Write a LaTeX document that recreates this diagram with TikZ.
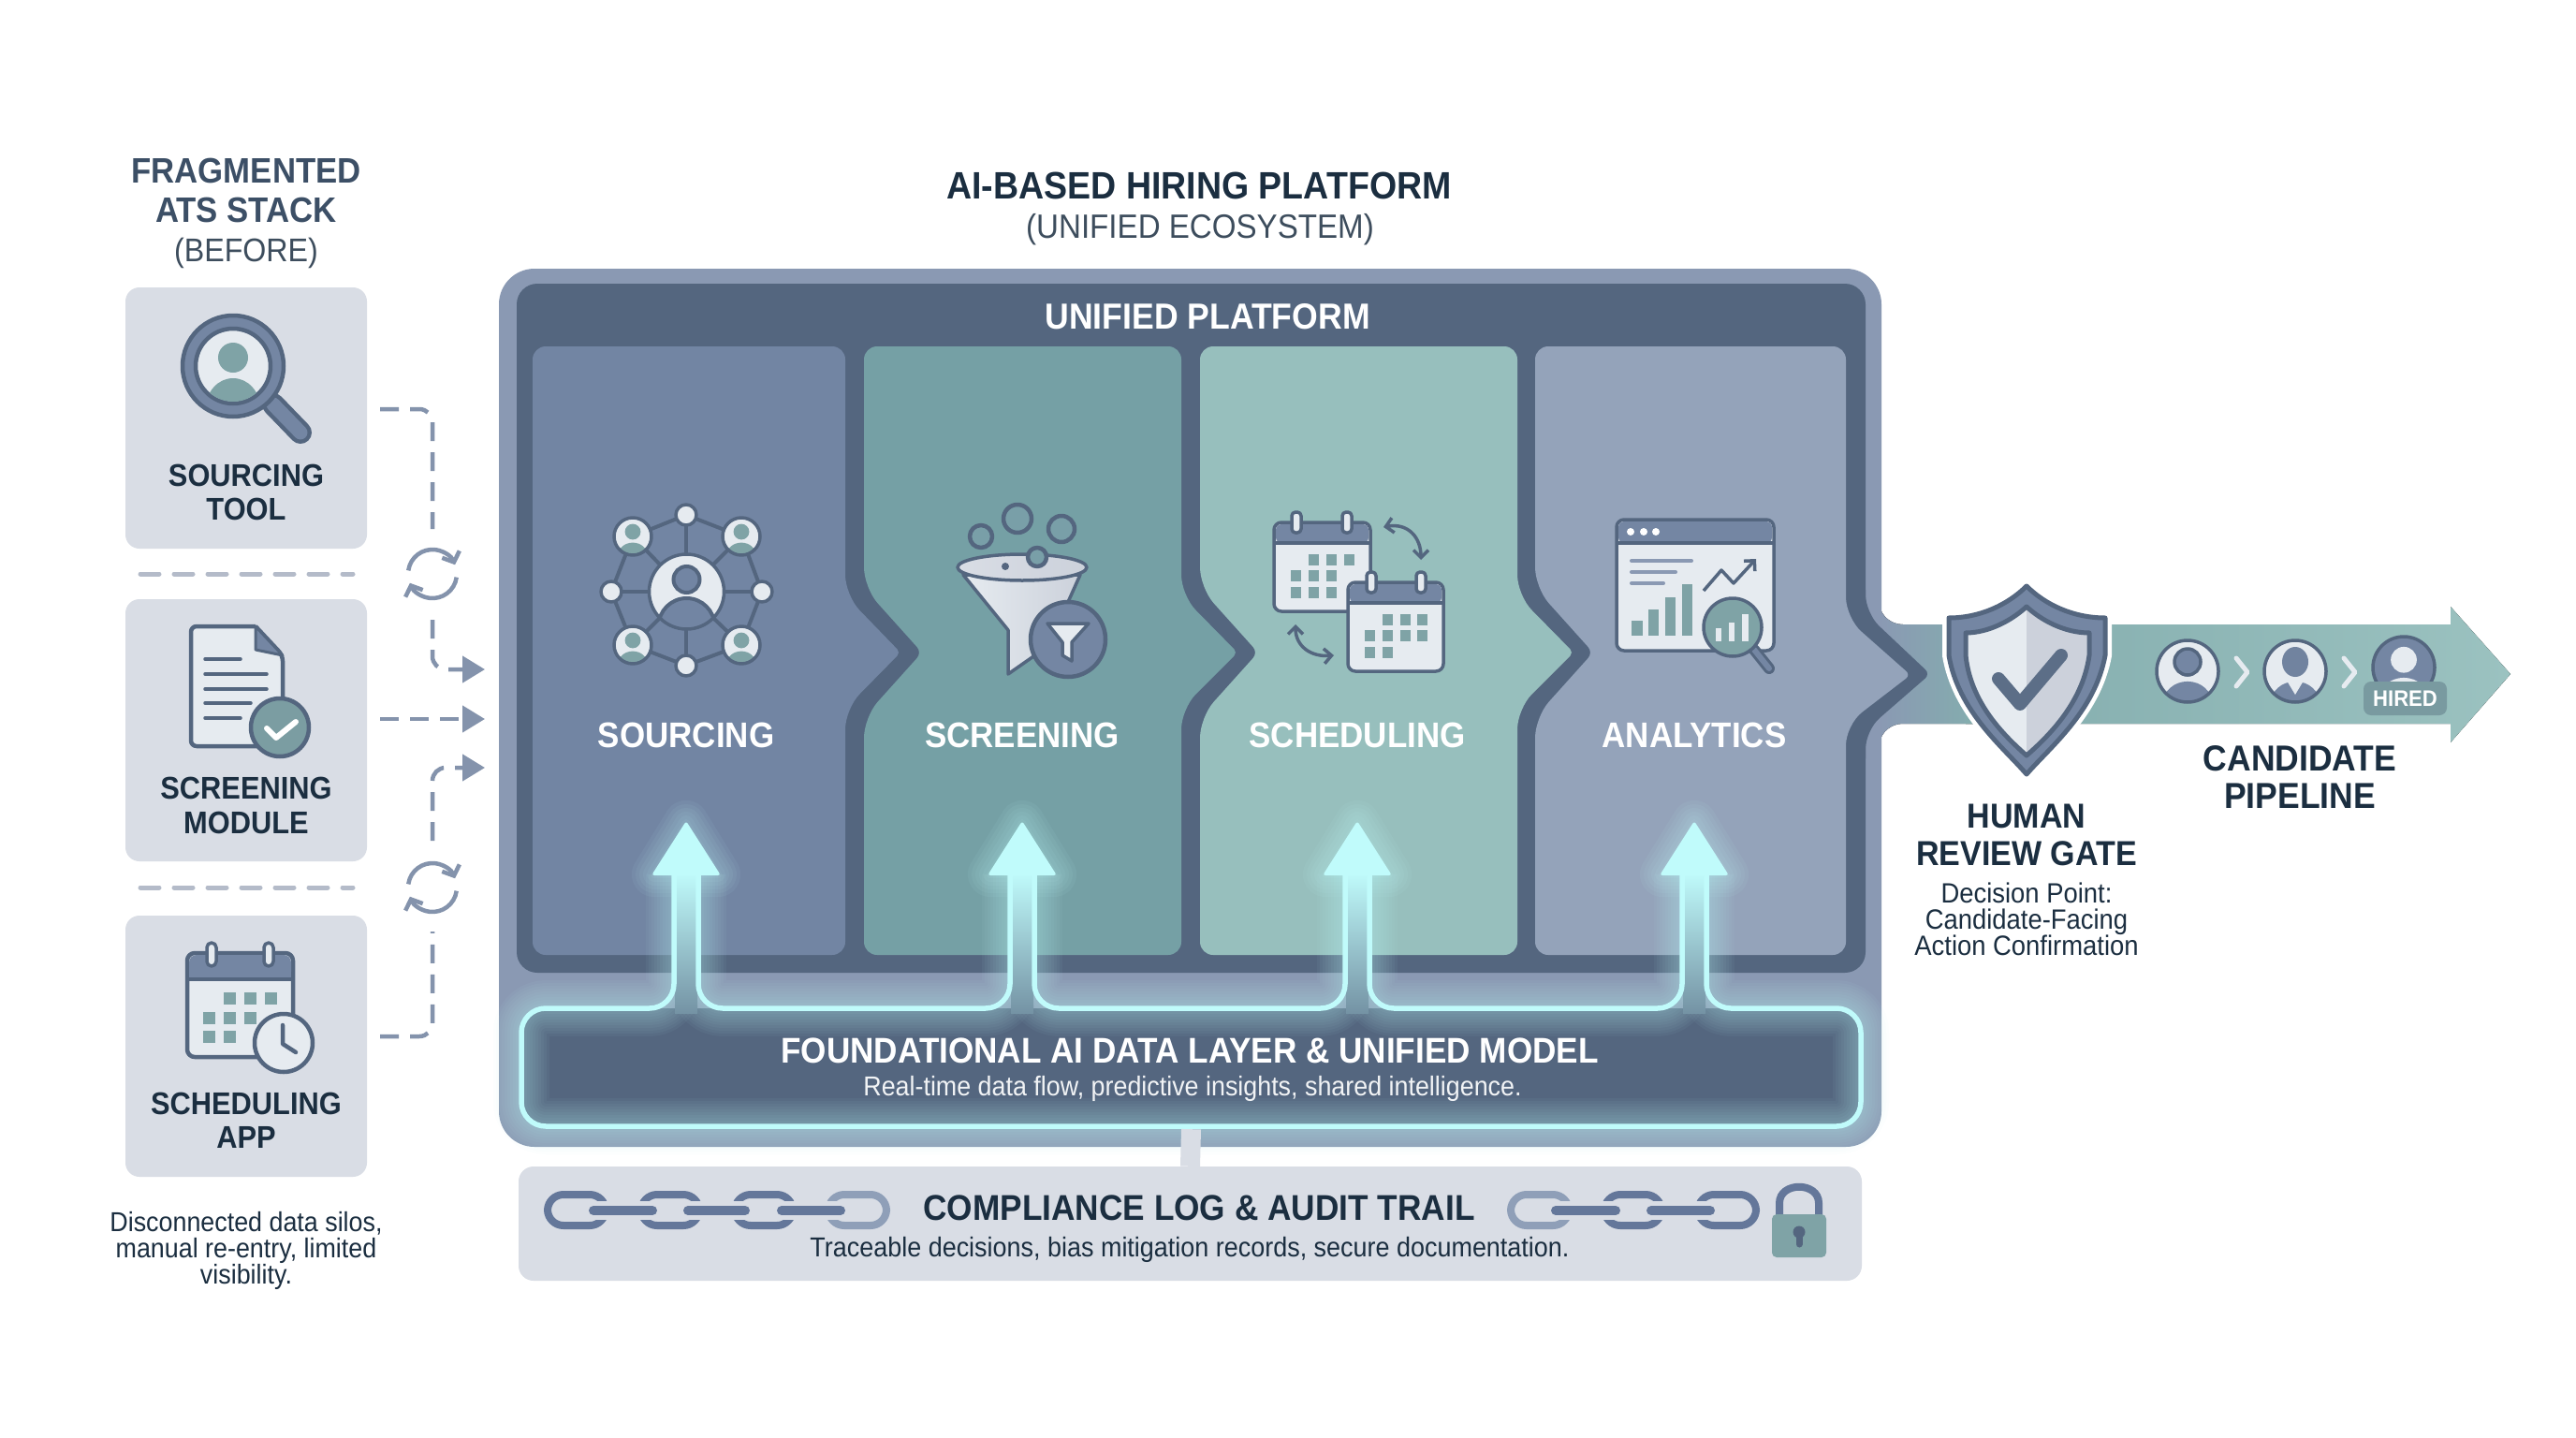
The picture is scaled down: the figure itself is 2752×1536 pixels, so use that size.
\documentclass[tikz,border=0pt]{standalone}
\usepackage{fontspec}
\setmainfont[FakeStretch=0.92]{Liberation Sans}
\usetikzlibrary{arrows.meta}
\definecolor{silo}{HTML}{D9DDE5}
\definecolor{frame}{HTML}{8A99B3}
\definecolor{dk}{HTML}{54667F}
\definecolor{colA}{HTML}{7285A3}
\definecolor{colB}{HTML}{75A0A5}
\definecolor{colC}{HTML}{97BFBD}
\definecolor{colD}{HTML}{94A3BA}
\definecolor{cyanc}{HTML}{C0FBFB}
\definecolor{tealc}{HTML}{7FA3A6}
\definecolor{ink}{HTML}{1B2E40}
\definecolor{inksoft}{HTML}{3C4F66}
\definecolor{paper}{HTML}{E6EBF0}
\definecolor{midb}{HTML}{7486A3}
\definecolor{dash}{HTML}{8493AC}
\definecolor{seplin}{HTML}{B4BBC9}
\definecolor{chainA}{HTML}{64779A}
\definecolor{chainB}{HTML}{8F9FB8}
\definecolor{pipeL}{HTML}{84ADAE}
\definecolor{pipeR}{HTML}{9BC2C0}
\tikzset{
 silobox/.style={fill=silo,rounded corners=15pt,minimum width=258pt,inner sep=0pt},
 lab/.style={inner sep=0pt,align=center,text=ink,font=\fontsize{33.5}{36.5}\selectfont\bfseries},
 collab/.style={inner sep=0pt,text=white,font=\fontsize{38}{40}\selectfont\bfseries},
 dashlink/.style={draw=dash,line width=4.5pt,dash pattern=on 20pt off 12pt,rounded corners=14pt},
 dashhead/.style={-{Triangle[length=24pt,width=28pt,fill=dash]}},
 sepline/.style={draw=seplin,line width=5pt,dash pattern=on 20pt off 16pt,line cap=round},
 syncarc/.style={draw=dash,line width=4.5pt,-{Straight Barb[length=9pt,width=20pt,line width=4.5pt]}},
 ic/.style={draw=dk,line width=4.5pt,line join=round},
 thinc/.style={draw=dk,line width=3.5pt,line join=round},
 bar/.style={fill=tealc},
 glowline/.style={draw=cyanc,line width=5.5pt,rounded corners=26pt,line join=round}
}
\newcommand\glowit[1]{\foreach \w in {60,54,48,42,36,30,24,18,12}{\draw[cyanc,line width=\w pt,opacity=.042,rounded corners=26pt,line join=round] #1;}}
\newcommand\personicon[6]{% cx cy r bg head body
 \begin{scope}[shift={(#1,#2)},scale=#3]
  \fill[#4] (0,0) circle[radius=1];
  \begin{scope}\clip (0,0) circle[radius=1];
   \fill[#6] (0,1.05) ellipse[x radius=.8,y radius=.72];
   \fill[#5] (0,-.25) circle[radius=.42];
  \end{scope}
  \draw[thinc] (0,0) circle[radius=1];
 \end{scope}}
\newcommand\smallnode[2]{\draw[thinc,fill=paper] (#1,#2) circle[radius=11pt];}
\newcommand\cell[2]{\fill[bar] (#1-6.5,#2-6.5) rectangle (#1+6.5,#2+6.5);}
\newcommand\chainlink[3]{\draw[#3,line width=8pt,rounded corners=17pt] (#1+4,1276) rectangle (#2-4,1309);}
\newcommand\chainbar[3]{\draw[silo,line width=20pt] (#1,1293) -- (#2,1293);\draw[#3,line width=10pt,line cap=round] (#1+5,1293) -- (#2-5,1293);}
\newcommand\upbeam[1]{%
 \fill[top color=cyanc,middle color=cyanc!55!colB,bottom color=dk!70!cyanc] (#1-12,932) rectangle (#1+12,1082);
 \fill[cyanc,rounded corners=3pt] (#1,877) -- (#1+37,935) -- (#1-37,935) -- cycle;}
\newcommand\upbeamglow[1]{\foreach \w in {48,40,32,24,16,8}{\draw[cyanc,line width=\w pt,opacity=.06,line join=round] (#1,879) -- (#1+34,934) -- (#1-34,934) -- cycle;}}
\begin{document}
\begin{tikzpicture}[x=1pt,y=-1pt]
\path[use as bounding box] (0,0) rectangle (2752,1536);
\fill[white] (0,0) rectangle (2752,1536);

% ---------- left column
\node[inner sep=0pt,align=center,text=inksoft,font=\fontsize{37.8}{42}\selectfont] (fragtitle) at (263,228) {\textbf{FRAGMENTED}\\\textbf{ATS STACK}\\{\fontsize{35}{42}\selectfont\color{ink!85}(BEFORE)}};
\node[silobox,minimum height=279pt] (srcbox) at (263,446.5) {};
\node[silobox,minimum height=280pt] (scrbox) at (263,780) {};
\node[silobox,minimum height=279pt] (schbox) at (263,1117.5) {};
\node[lab] (srclab) at (263,526) {SOURCING\\TOOL};
\node[lab] (scrlab) at (263,860.5) {SCREENING\\MODULE};
\node[lab] (schlab) at (263,1197) {SCHEDULING\\APP};
\node[inner sep=0pt,align=center,text=ink,font=\fontsize{29.2}{28.2}\selectfont] (silonote) at (263,1336) {Disconnected data silos,\\manual re-entry, limited\\visibility.};

% magnifier icon
\draw[dk,line width=24pt,line cap=round] (292,432) -- (321,462);
\draw[midb,line width=15pt,line cap=round] (292,432) -- (321,462);
\draw[ic,fill=midb] (249,391) circle[radius=54pt];
\draw[ic,fill=paper] (249,391) circle[radius=40pt];
\begin{scope}\clip (249,391) circle[radius=38pt];
 \fill[tealc] (249,382) circle[radius=16pt];
 \fill[tealc] (249,436) ellipse[x radius=29pt,y radius=32pt];
\end{scope}

% document icon
\draw[ic,fill=paper,rounded corners=6pt] (273,669) -- (204,669) -- (204,797) -- (302,797) -- (302,700) [sharp corners] -- (273,669);
\fill[midb,draw=dk,line width=3pt,line join=round] (273,669) -- (302,700) -- (273,694) -- cycle;
\foreach \yy/\xx in {704/257,720/285,736/285,751/268,767/257}{\draw[dk,line width=3.5pt,line cap=round] (219,\yy) -- (\xx,\yy);}
\draw[ic,fill=tealc!90!dk] (299,777) circle[radius=31pt];
\draw[white,line width=6pt,line cap=round,line join=round] (285,778) -- (295,788) -- (316,771);

% calendar + clock icon
\draw[ic,fill=paper,rounded corners=8pt] (200,1018) rectangle (313,1129);
\fill[midb,rounded corners=8pt] (202,1020) rectangle (311,1046);
\fill[midb] (202,1037) rectangle (311,1046);
\draw[ic] (200,1046) -- (313,1046);
\draw[thinc,fill=paper,rounded corners=5pt] (221,1007) rectangle (231,1032);
\draw[thinc,fill=paper,rounded corners=5pt] (282,1007) rectangle (292,1032);
\foreach \cx/\cy in {245/1066,267/1066,289/1066,223/1087,245/1087,267/1087,223/1107,245/1107}{\cell{\cx}{\cy}}
\draw[ic,fill=paper] (303,1114) circle[radius=31pt];
\draw[dk,line width=4.5pt,line cap=round,line join=round] (302,1095) -- (302,1115) -- (316,1124);

% dashed links
\coordinate (srcout) at (406,437);
\coordinate (scrout) at (406,768);
\coordinate (schout) at (406,1107);
\coordinate (toptarget) at (518,715);
\coordinate (midtarget) at (518,768);
\coordinate (bottarget) at (518,820);
\coordinate (synctopn) at (462,565);
\coordinate (synctops) at (462,662);
\coordinate (syncbotn) at (462,898);
\coordinate (syncbots) at (462,995);
\draw[dashlink] (srcout) -- (462,437) -- (synctopn);
\draw[dashlink,dashhead] (synctops) -- (462,715) -- (toptarget);
\draw[dashlink,dashhead] (scrout) -- (midtarget);
\draw[dashlink,dashhead] (syncbotn) -- (462,820) -- (bottarget);
\draw[dashlink] (schout) -- (462,1107) -- (syncbots);
\draw[sepline] (150,613) -- (377,613);
\draw[sepline] (150,948) -- (377,948);
\foreach \sy in {613,948}{
 \draw[syncarc] (462,\sy) ++(172:26pt) arc[start angle=172,end angle=22,radius=26pt];
 \draw[syncarc] (462,\sy) ++(-8:26pt) arc[start angle=-8,end angle=-158,radius=26pt];
}

% ---------- titles
\node[inner sep=0pt,text=ink,font=\fontsize{40.8}{46}\selectfont\bfseries] (maintitle) at (1281,198) {AI-BASED HIRING PLATFORM};
\node[inner sep=0pt,text=ink!85,font=\fontsize{36}{40}\selectfont] (mainsub) at (1282,245) {(UNIFIED ECOSYSTEM)};

% ---------- platform
\fill[left color=frame,right color=pipeL] (2008,647) .. controls (2010,658) and (2020,667) .. (2033,667) -- (2110,667) -- (2110,773) -- (2033,773) .. controls (2020,773) and (2010,782) .. (2008,793) -- cycle;
\node[fill=frame,rounded corners=38pt,minimum width=1477pt,minimum height=938pt,inner sep=0pt] (platform) at (1271.5,756) {};
\node[fill=dk,rounded corners=22pt,minimum width=1441pt,minimum height=736pt,inner sep=0pt] (panel) at (1272.5,671) {};
\fill[dk] (1985,630) -- (1993,630) [rounded corners=20pt] -- (1993,655) [rounded corners=7pt] -- (2062,720) [rounded corners=20pt] -- (1993,780) [sharp corners] -- (1993,810) -- (1985,810) -- cycle;
\node[inner sep=0pt,text=white,font=\fontsize{38.7}{40}\selectfont\bfseries] (unified) at (1290,338) {UNIFIED PLATFORM};

% column panels
\fill[colA,rounded corners=14pt] (569,370) -- (903,370) [rounded corners=22pt] -- (903,636) [rounded corners=5pt] -- (962,697) [rounded corners=22pt] -- (903,757) [rounded corners=14pt] -- (903,1020) -- (569,1020) -- cycle;
\fill[colB,rounded corners=14pt] (923,370) -- (1262,370) [rounded corners=22pt] -- (1262,636) [rounded corners=5pt] -- (1322,697) [rounded corners=22pt] -- (1262,757) [rounded corners=14pt] -- (1262,1020) -- (923,1020) [rounded corners=22pt] -- (923,766) [rounded corners=8pt] -- (985,697) [rounded corners=22pt] -- (923,628) [rounded corners=14pt] -- cycle;
\fill[colC,rounded corners=14pt] (1282,370) -- (1621,370) [rounded corners=22pt] -- (1621,636) [rounded corners=5pt] -- (1681,697) [rounded corners=22pt] -- (1621,757) [rounded corners=14pt] -- (1621,1020) -- (1282,1020) [rounded corners=22pt] -- (1282,766) [rounded corners=8pt] -- (1344,697) [rounded corners=22pt] -- (1282,628) [rounded corners=14pt] -- cycle;
\fill[colD,rounded corners=14pt] (1640,370) -- (1972,370) [rounded corners=22pt] -- (1972,660) [rounded corners=6pt] -- (2041,721) [rounded corners=22pt] -- (1972,774) [rounded corners=14pt] -- (1972,1020) -- (1640,1020) [rounded corners=22pt] -- (1640,766) [rounded corners=8pt] -- (1702,697) [rounded corners=22pt] -- (1640,628) [rounded corners=14pt] -- cycle;

\node[collab] (colsrc) at (733,785) {SOURCING};
\node[collab] (colscr) at (1092,785) {SCREENING};
\node[collab] (colsch) at (1450,785) {SCHEDULING};
\node[collab] (colana) at (1810,785) {ANALYTICS};

% network icon
\foreach \ax/\ay/\bx/\by in {733/550/676/573,733/550/792/573,733/550/733/632,653/632/676/573,653/632/676/689,653/632/733/632,814/632/792/573,814/632/792/689,814/632/733/632,733/711/676/689,733/711/792/689,733/711/733/632,733/632/676/573,733/632/792/573,733/632/676/689,733/632/792/689}{\draw[dk,line width=4pt] (\ax,\ay) -- (\bx,\by);}
\fill[paper] (733.5,632) circle[radius=40pt];
\begin{scope}\clip (733.5,632) circle[radius=40pt];
 \draw[dk,line width=4pt,fill=colA] (733.5,669) circle[radius=30pt];
\end{scope}
\draw[thinc] (733.5,632) circle[radius=40pt];
\draw[dk,line width=4pt,fill=colA] (733.5,619) circle[radius=14pt];
\personicon{676}{573}{20}{paper}{tealc}{tealc}
\personicon{792}{573}{20}{paper}{tealc}{tealc}
\personicon{676}{689}{20}{paper}{tealc}{tealc}
\personicon{792}{689}{20}{paper}{tealc}{tealc}
\smallnode{733}{550}\smallnode{733}{711}\smallnode{653}{632}\smallnode{814}{632}

% funnel icon
\draw[thinc,left color=paper,right color=silo!90!dk] (1029,614) -- (1077,673) -- (1077,720) -- (1120,690) -- (1154,614) -- cycle;
\draw[thinc,left color=silo,right color=silo!90!dk] (1092,606) ellipse[x radius=69pt,y radius=14pt];
\draw[ic,fill=colB!80!frame] (1048,573) circle[radius=12pt];
\draw[ic,fill=colB!80!frame] (1087,554) circle[radius=15pt];
\draw[ic,fill=colB!80!frame] (1134,565) circle[radius=14pt];
\draw[ic,fill=colB!80!frame] (1108,595) circle[radius=10pt];
\fill[dk] (1074,605) circle[radius=4pt];
\draw[ic,fill=midb] (1141,683) circle[radius=40pt];
\draw[thinc,fill=paper] (1119,666) -- (1163,666) -- (1145,686) -- (1145,706) -- (1135,700) -- (1135,686) -- cycle;

% scheduling icon
\draw[thinc,fill=paper,rounded corners=8pt] (1361,558) rectangle (1464,653);
\fill[midb,rounded corners=6pt] (1363,560) rectangle (1462,580);
\draw[thinc] (1361,580) -- (1464,580);
\draw[thinc,fill=paper,rounded corners=4pt] (1380,547) rectangle (1390,569);
\draw[thinc,fill=paper,rounded corners=4pt] (1434,547) rectangle (1444,569);
\foreach \cx/\cy in {1403/598,1422/598,1441/598,1384/615,1403/615,1422/615,1384/633,1403/633,1422/633}{\fill[bar] (\cx-5.5,\cy-6) rectangle (\cx+5.5,\cy+6);}
\draw[thinc,fill=paper,rounded corners=8pt] (1440,622) rectangle (1542,717);
\fill[midb,rounded corners=6pt] (1442,624) rectangle (1540,644);
\draw[thinc] (1440,644) -- (1542,644);
\draw[thinc,fill=paper,rounded corners=4pt] (1460,611) rectangle (1470,633);
\draw[thinc,fill=paper,rounded corners=4pt] (1513,611) rectangle (1523,633);
\foreach \cx/\cy in {1482/662,1501/662,1519/662,1463/679,1482/679,1501/679,1519/679,1463/697,1482/697}{\fill[bar] (\cx-5.5,\cy-6) rectangle (\cx+5.5,\cy+6);}
\draw[thinc,{Straight Barb[length=8pt,width=16pt]}-{Straight Barb[length=8pt,width=16pt]}] (1478,563) .. controls (1505,558) and (1518,575) .. (1518,598);
\draw[thinc,{Straight Barb[length=8pt,width=16pt]}-{Straight Barb[length=8pt,width=16pt]}] (1384,667) .. controls (1384,690) and (1400,702) .. (1425,700);

% analytics icon
\draw[thinc,fill=paper,rounded corners=8pt] (1727,555) rectangle (1895,695);
\fill[midb,rounded corners=6pt] (1729,557) rectangle (1893,580);
\draw[thinc] (1727,580) -- (1895,580);
\foreach \dx in {1742,1756,1769}{\fill[white] (\dx,568) circle[radius=4pt];}
\foreach \yy/\xx in {599/1807,611/1790,623/1777}{\draw[frame,line width=4pt,line cap=round] (1743,\yy) -- (\xx,\yy);}
\foreach \ax/\bx/\ty in {1743/1755/663,1761/1772/651,1779/1790/638,1797/1808/624}{\fill[bar] (\ax,\ty) rectangle (\bx,679);}
\draw[thinc,-{Straight Barb[length=8pt,width=16pt]}] (1820,631) -- (1839,609) -- (1852,623) -- (1876,597);
\draw[dk,line width=12pt,line cap=round] (1874,694) -- (1890,714);
\draw[midb,line width=6pt,line cap=round] (1874,694) -- (1890,714);
\draw[thinc,fill=tealc] (1851,670) circle[radius=31pt];
\fill[paper] (1833,671) rectangle (1839,685);
\fill[paper] (1847,665) rectangle (1853,685);
\fill[paper] (1861,656) rectangle (1868,685);

% foundation
\node[fill=dk,rounded corners=26pt,minimum width=1431pt,minimum height=126pt,inner sep=0pt] (foundation) at (1272.5,1140) {};
\def\outerrun{(720,934) -- (720,1077) -- (557,1077) -- (557,1203) -- (1988,1203) -- (1988,1077) -- (1823,1077) -- (1823,934)}
\def\runA{(746,934) -- (746,1077) -- (1079,1077) -- (1079,934)}
\def\runB{(1105,934) -- (1105,1077) -- (1437,1077) -- (1437,934)}
\def\runC{(1463,934) -- (1463,1077) -- (1797,1077) -- (1797,934)}
\glowit{\outerrun}\glowit{\runA}\glowit{\runB}\glowit{\runC}
\foreach \cxx in {733,1092,1450,1810}{\upbeamglow{\cxx}\upbeam{\cxx}}
\draw[glowline] \outerrun;
\draw[glowline] \runA;
\draw[glowline] \runB;
\draw[glowline] \runC;
\node[inner sep=0pt,text=white,font=\fontsize{38.2}{42}\selectfont\bfseries] (foundtitle) at (1271,1122) {FOUNDATIONAL AI DATA LAYER \& UNIFIED MODEL};
\node[inner sep=0pt,text=white!92!dk,font=\fontsize{29.2}{30}\selectfont] (foundsub) at (1274,1163) {Real-time data flow, predictive insights, shared intelligence.};

% compliance
\node[fill=silo,rounded corners=16pt,minimum width=1435pt,minimum height=122pt,inner sep=0pt] (compliance) at (1271.5,1307) {};
\draw[silo,line width=21pt] (foundation.south) ++(0,3) -- (compliance.north);
\node[inner sep=0pt,text=ink,font=\fontsize{38.3}{42}\selectfont\bfseries] (comptitle) at (1281,1290) {COMPLIANCE LOG \& AUDIT TRAIL};
\node[inner sep=0pt,text=ink,font=\fontsize{29.3}{30}\selectfont] (compsub) at (1271,1335) {Traceable decisions, bias mitigation records, secure documentation.};
\chainlink{581}{651}{chainA}\chainlink{681}{751}{chainA}\chainlink{781}{851}{chainA}\chainlink{881}{951}{chainB}
\chainbar{629}{702}{chainA}\chainbar{730}{801}{chainA}\chainbar{830}{903}{chainA}
\chainlink{1610}{1680}{chainB}\chainlink{1710}{1779}{chainA}\chainlink{1810}{1880}{chainA}
\chainbar{1657}{1731}{chainA}\chainbar{1759}{1832}{chainA}
\draw[chainA,line width=8pt] (1901,1300) -- (1901,1285) .. controls (1901,1262) and (1943,1262) .. (1943,1285) -- (1943,1300);
\fill[tealc,rounded corners=5pt] (1893,1297) rectangle (1951,1343);
\fill[dk] (1922,1316) circle[radius=6.5pt];
\draw[dk,line width=7pt,line cap=round] (1922,1316) -- (1922,1329);

% pipeline arrow
\fill[left color=pipeL,right color=pipeR] (2100,667) -- (2618,667) -- (2618,648) -- (2682,720) -- (2618,793) -- (2618,773) -- (2100,773) -- cycle;

% shield
\def\shieldouter{(2165,626) .. controls (2185,646) and (2215,660) .. (2249,660) -- (2249,700) .. controls (2238,760) and (2190,798) .. (2165,827) .. controls (2140,798) and (2092,760) .. (2082,700) -- (2082,660) .. controls (2115,660) and (2145,646) .. (2165,626) -- cycle}
\def\shieldinner{(2165,648) .. controls (2180,662) and (2205,676) .. (2232,676) -- (2232,700) .. controls (2225,750) and (2190,785) .. (2165,807) .. controls (2140,785) and (2105,750) .. (2100,700) -- (2100,676) .. controls (2125,676) and (2150,662) .. (2165,648) -- cycle}
\draw[white,line width=14pt,line join=round] \shieldouter;
\draw[dk,line width=5pt,line join=round,fill=midb] \shieldouter;
\fill[paper] \shieldinner;
\begin{scope}\clip (2165,600) rectangle (2260,840);\fill[silo!90!dk] \shieldinner;\end{scope}
\draw[dk,line width=5pt,line join=round] \shieldinner;
\draw[dk!85!frame,line width=14pt,line cap=round,line join=round] (2135,725) -- (2158,752) -- (2202,700);
\node (gatelab) [inner sep=0pt,align=center,text=ink,font=\fontsize{37}{40}\selectfont\bfseries] at (2165,892) {HUMAN\\REVIEW GATE};
\node (gatenote) [inner sep=0pt,align=center,text=ink,font=\fontsize{29.8}{27.5}\selectfont] at (2165,982) {Decision Point:\\Candidate-Facing\\Action Confirmation};

% pipeline people
\personicon{2337}{717}{33}{paper}{midb}{midb}
\draw[dk,line width=3.5pt,fill=midb] (2337,707) circle[radius=14pt];
\personicon{2452}{717}{33}{paper}{paper}{midb}
\fill[midb!90!dk] (2452,707) ellipse[x radius=14pt,y radius=16pt];
\fill[paper] (2443,727) -- (2452,742) -- (2461,727) -- cycle;
\draw[paper,line width=5pt,line cap=round,line join=round] (2389,703) -- (2401,718) -- (2389,733);
\draw[paper,line width=5pt,line cap=round,line join=round] (2504,703) -- (2516,718) -- (2504,733);
\personicon{2568}{713}{33}{midb}{paper}{paper}
\node[fill=tealc!85!dk,rounded corners=8pt,minimum width=89pt,minimum height=36pt,inner sep=0pt,text=white,font=\fontsize{24}{26}\selectfont\bfseries] (hired) at (2569.5,746) {HIRED};
\node (pipelab) [inner sep=0pt,align=center,text=ink,font=\fontsize{38.6}{40}\selectfont\bfseries] at (2457,830) {CANDIDATE\\PIPELINE};
\end{tikzpicture}
\end{document}
